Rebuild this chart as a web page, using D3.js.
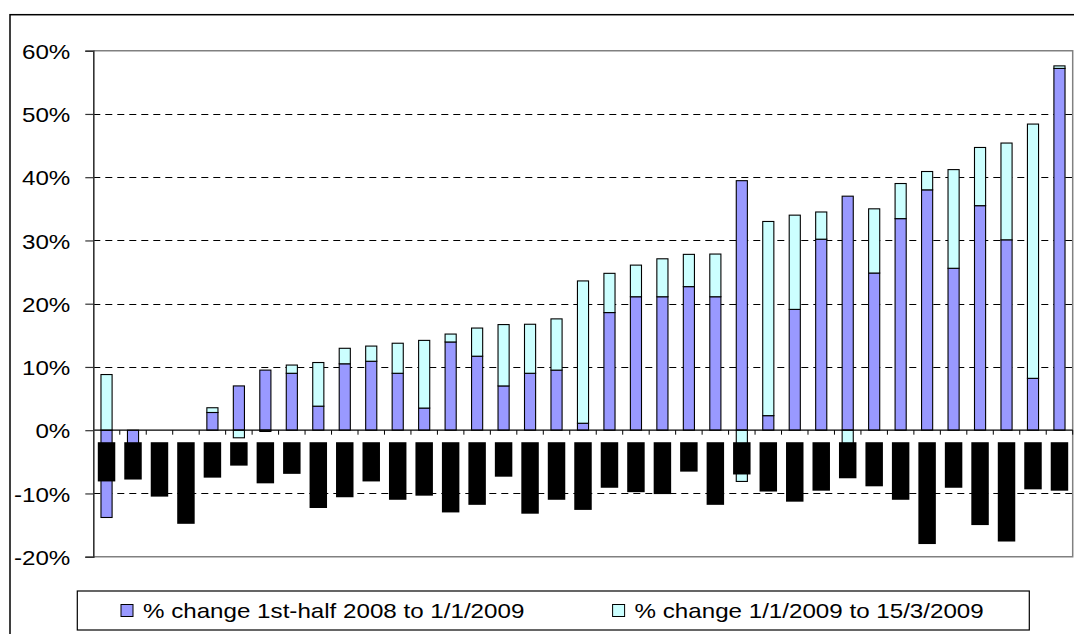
<!DOCTYPE html>
<html>
<head>
<meta charset="utf-8">
<script src="https://cdn.jsdelivr.net/npm/d3@7"></script>
<style>
  html, body { margin: 0; padding: 0; background: #fff; }
  svg { display: block; }
  text { font-family: "Liberation Sans", Arial, sans-serif; fill: #000; }
</style>
</head>
<body>
<svg id="chart" width="1074" height="634"></svg>
<script>
// ---- data (percent) ----
const categories = d3.range(1, 38).map(i => "Item " + i); // labels are masked in the source
const seriesNames = ["% change 1st-half 2008 to 1/1/2009", "% change 1/1/2009 to 15/3/2009"];
const change2008 = [-13.8, -2.5, 0, 0, 2.8, 7.0, 9.5, 9.0, 3.8, 10.5, 10.9, 9.0, 3.5, 13.95, 11.7, 7.0, 9.0, 9.5, 1.1, 18.6,
                    21.1, 21.1, 22.7, 21.1, 39.45, 2.3, 19.1, 30.2, 37.0, 24.85, 33.45, 38.0, 25.6, 35.5, 30.1, 8.2, 57.2];
const change2009 = [8.8, 0, 0, 0, 0.75, -1.2, -0.2, 1.3, 6.9, 2.45, 2.4, 4.75, 10.7, 1.25, 4.45, 9.7, 7.75, 8.1, 22.5, 6.2,
                    5.0, 6.0, 5.1, 6.75, -8.1, 30.7, 14.9, 4.3, -2.2, 10.15, 5.55, 2.9, 15.6, 9.2, 15.3, 40.2, 0.4];
// masked (blacked-out) category label blocks: top and bottom levels in percent
const maskTop = -1.9;
const maskBottom = [-8.1, -7.8, -10.5, -14.8, -7.5, -5.6, -8.4, -6.9, -12.3, -10.6, -8.1, -11.0, -10.35, -13.0, -11.8, -7.35,
                    -13.2, -11.0, -12.6, -9.1, -9.8, -10.1, -6.55, -11.8, -7.0, -9.7, -11.3, -9.56, -7.6, -8.87, -11.0,
                    -18.0, -9.1, -15.0, -17.6, -9.35, -9.56];
const yTicks = [-20, -10, 0, 10, 20, 30, 40, 50, 60];
const colors = ["#9999FF", "#CCFFFF"];

// ---- layout ----
const svg = d3.select("#chart");
const plotL = 93.3, plotR = 1072.7, plotT = 50.7, plotB = 556.7;
const STRETCH = 1.15;

const x = d3.scaleBand().domain(categories).range([plotL, plotR]).paddingInner(0).paddingOuter(0);
const y = d3.scaleLinear().domain([-20, 60]).range([plotB, plotT]);
const barW = x.step() * 0.42;
const maskW = x.step() * 0.66;

function stretch(sel) {
  sel.each(function () {
    const w = this.getComputedTextLength();
    d3.select(this).attr("textLength", w * STRETCH).attr("lengthAdjust", "spacingAndGlyphs");
  });
}

// outer chart border
svg.append("rect")
  .attr("x", 10).attr("y", 14.7).attr("width", 1200).attr("height", 700)
  .attr("fill", "none").attr("stroke", "#000").attr("stroke-width", 1.5);

// gridlines
svg.append("g").selectAll("line")
  .data(yTicks.filter(t => t !== 0 && t !== -20 && t !== 60))
  .join("line")
  .attr("x1", plotL).attr("x2", plotR)
  .attr("y1", d => Math.round(y(d)) + 0.5).attr("y2", d => Math.round(y(d)) + 0.5)
  .attr("stroke", "#000").attr("stroke-width", 1).attr("stroke-dasharray", "7,5");

// plot area border (top, right, bottom)
svg.append("path")
  .attr("d", `M${plotL},${plotT}H${plotR}V${plotB}H${plotL}`)
  .attr("fill", "none").attr("stroke", "#808080").attr("stroke-width", 1.5);

// stacked bars (diverging)
const rows = categories.map((c, i) => ({ cat: c, a: change2008[i], b: change2009[i] }));
const stacked = d3.stack().keys(["a", "b"]).offset(d3.stackOffsetDiverging)(rows);

const barsG = svg.append("g");
stacked.forEach((layer, li) => {
  barsG.append("g")
    .selectAll("rect")
    .data(layer.filter(d => d[1] !== d[0]))
    .join("rect")
    .attr("x", d => x(d.data.cat) + (x.step() - barW) / 2)
    .attr("width", barW)
    .attr("y", d => y(Math.max(d[0], d[1])))
    .attr("height", d => Math.abs(y(d[0]) - y(d[1])))
    .attr("fill", colors[li])
    .attr("stroke", "#000").attr("stroke-width", 1.1);
});

// x axis at zero
const xAxisG = svg.append("g").attr("transform", `translate(0,${y(0)})`);
xAxisG.append("line").attr("x1", plotL).attr("x2", plotR).attr("stroke", "#000").attr("stroke-width", 1.3);
xAxisG.selectAll("line.tk")
  .data(categories)
  .join("line").attr("class", "tk")
  .attr("x1", d => x(d) + x.step()).attr("x2", d => x(d) + x.step())
  .attr("y1", 0).attr("y2", 4.5)
  .attr("stroke", "#000").attr("stroke-width", 1);

// masked category labels (black blocks)
svg.append("g").selectAll("rect")
  .data(categories)
  .join("rect")
  .attr("x", d => x(d) + (x.step() - maskW) / 2)
  .attr("width", maskW)
  .attr("y", y(maskTop))
  .attr("height", (d, i) => y(maskBottom[i]) - y(maskTop))
  .attr("fill", "#000");

// y axis
const yAxis = d3.axisLeft(y).tickValues(yTicks).tickFormat(d => d + "%").tickSize(8).tickPadding(15);
const yG = svg.append("g").attr("transform", `translate(${plotL},0)`).call(yAxis);
yG.select(".domain").attr("stroke", "#333").attr("stroke-width", 1.6);
yG.selectAll(".tick line").attr("stroke", "#333").attr("stroke-width", 1.2);
yG.selectAll(".tick text")
  .attr("font-size", 21).attr("font-family", "'Liberation Sans', Arial, sans-serif")
  .attr("fill", "#000").attr("dy", "0.36em").attr("text-anchor", "end");
stretch(yG.selectAll(".tick text"));

// legend
const lg = svg.append("g");
lg.append("rect").attr("x", 77.3).attr("y", 591).attr("width", 952).attr("height", 39)
  .attr("fill", "#fff").attr("stroke", "#000").attr("stroke-width", 1.2);
const legendX = [121, 612.6];
seriesNames.forEach((name, i) => {
  lg.append("rect").attr("x", legendX[i]).attr("y", 604.5).attr("width", 12).attr("height", 12)
    .attr("fill", colors[i]).attr("stroke", "#000").attr("stroke-width", 1);
  const t = lg.append("text").attr("x", legendX[i] + 22).attr("y", 617.5)
    .attr("font-size", 21).text(name);
  stretch(t);
});
</script>
</body>
</html>
